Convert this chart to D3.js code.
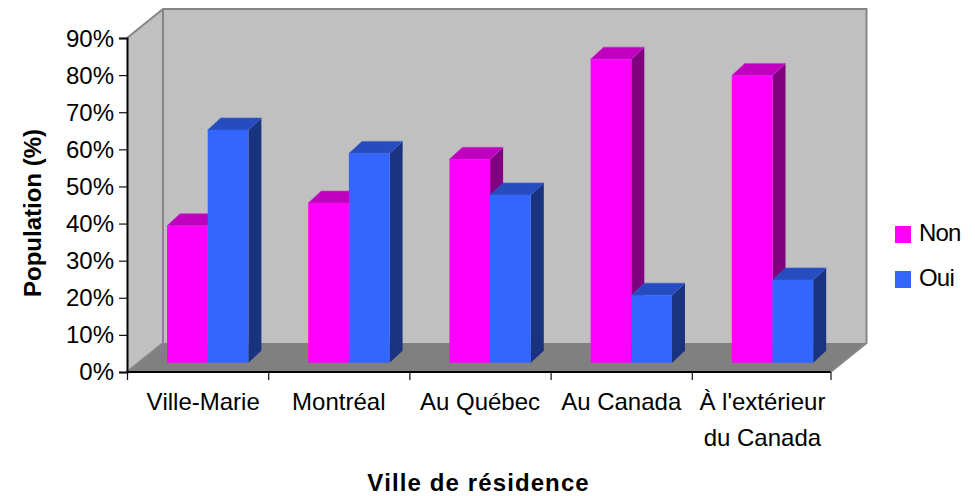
<!DOCTYPE html>
<html><head><meta charset="utf-8">
<script src="https://cdn.jsdelivr.net/npm/d3@7/dist/d3.min.js"></script>
<style>html,body{margin:0;background:#fff}svg{display:block}text{font-family:"Liberation Sans",Arial,sans-serif;fill:#000;font-kerning:none}</style>
</head><body><svg id="c" width="975" height="496"></svg>
<script>
const categories=[["Ville-Marie"],["Montréal"],["Au Québec"],["Au Canada"],["À l'extérieur","du Canada"]];
const nonValues=[36.9,43,54.8,81.8,77.4];
const ouiValues=[62.7,56.4,45.2,18.2,22.3];
const yTicks=[0,10,20,30,40,50,60,70,80,90];
const seriesNames=["Non","Oui"];
const palette={Non:{front:"#FF00FF",side:"#800080",top:"#BF00BF",edge:"#C830C8"},Oui:{front:"#3366FF",side:"#1A3380",top:"#264DBF",edge:"#3A60D0"}};

const svg=d3.select("#c");
const L=127,R=830.5,BAND_R=833,B=372,T=38,DX=36,DY=-29;
const BDX=13,BDY=-12,LIFT=9.3;
const y=d3.scaleLinear().domain([0,90]).range([B,T]);
const xi=d3.scaleLinear().domain([0,5]).range([L,BAND_R]);
const band=d3.scaleBand().domain(d3.range(5)).range([L,BAND_R]);
const poly=(pts,fill,stroke)=>svg.append("polygon").attr("points",pts.map(p=>p.join(",")).join(" ")).attr("fill",fill).attr("stroke",stroke||"none").attr("stroke-width",stroke?0.6:null);

// walls and floor
poly([[L,B],[L,T],[L+DX,T+DY],[L+DX,B+DY]],"#C0C0C0");
poly([[L+DX,B+DY],[L+DX,T+DY],[R+DX,T+DY],[R+DX,B+DY]],"#C0C0C0");
poly([[L,B],[L+DX,B+DY],[R+DX,B+DY],[R,B]],"#808080");
svg.append("path").attr("fill","none").attr("stroke","#868686").attr("stroke-width",2)
  .attr("d",`M${L},${T}L${L+DX},${T+DY}L${R+DX},${T+DY}L${R+DX},${B+DY}L${R},${B}M${L+DX},${T+DY}L${L+DX},${B+DY}L${L},${B}`);

// bars
const barW=40.7,barOff=40;
categories.forEach((c,i)=>{
  seriesNames.forEach((s,k)=>{
    const v=(s==="Non"?nonValues:ouiValues)[i];
    const x0=band(i)+barOff+k*barW,x1=x0+barW,yb=y(0)-LIFT,yt=y(v)-LIFT,col=palette[s];
    poly([[x1,yb],[x1,yt],[x1+BDX,yt+BDY],[x1+BDX,yb+BDY]],col.side);
    poly([[x0,yt],[x1,yt],[x1+BDX,yt+BDY],[x0+BDX,yt+BDY]],col.top,col.edge);
    poly([[x0,yb],[x1,yb],[x1,yt],[x0,yt]],col.front);
  });
});

// axes
const fs=24;
const gy=svg.append("g").attr("transform",`translate(${L},0)`)
  .call(d3.axisLeft(y).tickValues(yTicks).tickSize(8).tickPadding(5).tickFormat(d=>d+"%"));
gy.selectAll("text").attr("font-size",fs).attr("dy",null).attr("y",d=>7+1.7*d/90).style("font-family",'"Liberation Sans"');
const gx=svg.append("g").attr("transform",`translate(0,${B})`)
  .call(d3.axisBottom(xi).tickValues(d3.range(5).concat(xi.invert(R))).tickSize(8).tickFormat(""));
gx.select("path.domain").attr("d",`M${L},0H${R}`);
[gy,gx].forEach(g=>{g.selectAll("path.domain").attr("stroke","#000").attr("stroke-width",2);g.selectAll(".tick line").attr("stroke","#111").attr("stroke-width",1.2)});

categories.forEach((lines,i)=>{
  lines.forEach((t,j)=>{
    svg.append("text").attr("x",band(i)+band.bandwidth()/2+(i===0?5.5:0)).attr("y",410+j*36)
      .attr("text-anchor","middle").attr("font-size",fs).text(t);
  });
});

// titles
svg.append("text").attr("transform","translate(41,213) rotate(-90)").attr("text-anchor","middle")
  .attr("font-size",24).attr("font-weight","bold").text("Population (%)");
svg.append("text").attr("x",478.5).attr("y",491).attr("text-anchor","middle")
  .attr("font-size",24).attr("font-weight","bold").attr("letter-spacing",1.1).text("Ville de résidence");

// legend
const ly=d3.scalePoint().domain(seriesNames).range([234.5,279.5]);
seriesNames.forEach(s=>{
  svg.append("rect").attr("x",895).attr("y",ly(s)-8.5).attr("width",16).attr("height",17).attr("fill",palette[s].front);
  svg.append("text").attr("x",919).attr("y",ly(s)+6).attr("font-size",fs).attr("letter-spacing",-0.8).text(s);
});
</script></body></html>
